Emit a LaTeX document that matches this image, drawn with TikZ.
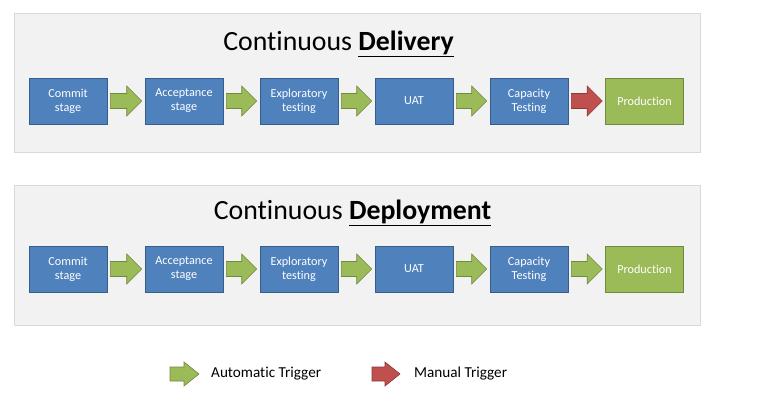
\documentclass[tikz,border=0pt]{standalone}
\usepackage{fontspec}
\setmainfont{Carlito}[Ligatures=NoCommon]
\usetikzlibrary{calc}
\definecolor{boxblue}{HTML}{4F81BD}
\definecolor{boxblueline}{HTML}{385D8A}
\definecolor{boxgreen}{HTML}{9BBB59}
\definecolor{boxgreenline}{HTML}{71893F}
\definecolor{arrred}{HTML}{C0504D}
\definecolor{arrredline}{HTML}{8C3836}
\definecolor{panelfill}{HTML}{F2F2F2}
\definecolor{panelline}{HTML}{D9D9D9}
\newcommand{\thickul}[1]{\underline{#1}}
\tikzset{
  panel/.style={fill=panelfill, draw=panelline, line width=0.8pt},
  stagebox/.style={rectangle, fill=boxblue, draw=boxblueline, line width=0.6pt,
    minimum width=78pt, minimum height=46pt, inner sep=0pt, align=center,
    text=white, font=\fontsize{12.2}{14}\selectfont},
  prodbox/.style={stagebox, fill=boxgreen, draw=boxgreenline},
  autoarr/.style={fill=boxgreen, draw=boxgreenline, line width=0.6pt, line join=miter},
  manarr/.style={fill=arrred, draw=arrredline, line width=0.6pt, line join=miter},
  titletext/.style={anchor=base, inner sep=0pt, font=\fontsize{27.8}{32}\selectfont},
  legendtext/.style={anchor=base west, inner sep=0pt, font=\fontsize{15.2}{18}\selectfont}
}
% #1 from node, #2 to node, #3 style, #4 shaft half height, #5 head half height, #6 head length
\newcommand{\blockarrow}[6]{%
  \draw[#3] ($(#1.east)+(3,-#4)$) -- ($(#2.west)+(-3-#6,-#4)$) -- ($(#2.west)+(-3-#6,-#5)$)
    -- ($(#2.west)+(-3,0)$) -- ($(#2.west)+(-3-#6,#5)$) -- ($(#2.west)+(-3-#6,#4)$)
    -- ($(#1.east)+(3,#4)$) -- cycle;}
\begin{document}
\begin{tikzpicture}[x=1pt,y=-1pt]
\useasboundingbox (0,0) rectangle (765,407);
\fill[white] (0,0) rectangle (765,407);
% panels
\draw[panel] (14,13) rectangle (700,152);
\draw[panel] (14,185) rectangle (700,325);
% titles
\node[titletext] (t1) at (338.5,50) {Continuous \thickul{\textbf{Delivery}}};
\node[titletext] (t2) at (352.5,219) {Continuous \thickul{\textbf{Deployment}}};
% row 1
\node[stagebox] (a1) at (68,101) {Commit\\stage};
\node[stagebox] (b1) at (184,101) {Acceptance\\stage};
\node[stagebox] (c1) at (299,101) {Exploratory\\testing};
\node[stagebox] (d1) at (414,101) {UAT};
\node[stagebox] (e1) at (529,101) {Capacity\\Testing};
\node[prodbox]  (f1) at (644.5,101) {Production};
\blockarrow{a1}{b1}{autoarr}{7.5}{15}{15}
\blockarrow{b1}{c1}{autoarr}{7.5}{15}{15}
\blockarrow{c1}{d1}{autoarr}{7.5}{15}{15}
\blockarrow{d1}{e1}{autoarr}{7.5}{15}{15}
\blockarrow{e1}{f1}{manarr}{7.5}{15}{15}
% row 2
\node[stagebox] (a2) at (68,269) {Commit\\stage};
\node[stagebox] (b2) at (184,269) {Acceptance\\stage};
\node[stagebox] (c2) at (299,269) {Exploratory\\testing};
\node[stagebox] (d2) at (414,269) {UAT};
\node[stagebox] (e2) at (529,269) {Capacity\\Testing};
\node[prodbox]  (f2) at (644.5,269) {Production};
\blockarrow{a2}{b2}{autoarr}{7.5}{15}{15}
\blockarrow{b2}{c2}{autoarr}{7.5}{15}{15}
\blockarrow{c2}{d2}{autoarr}{7.5}{15}{15}
\blockarrow{d2}{e2}{autoarr}{7.5}{15}{15}
\blockarrow{e2}{f2}{autoarr}{7.5}{15}{15}
% legend
\coordinate (lg1) at (167,374);
\coordinate (lg2) at (202,374);
\coordinate (lr1) at (369,374);
\coordinate (lr2) at (403,374);
\blockarrow{lg1}{lg2}{autoarr}{7}{12}{15}
\blockarrow{lr1}{lr2}{manarr}{7}{12}{15}
\node[legendtext] (l1) at (211,377) {Automatic Trigger};
\node[legendtext] (l2) at (414,377) {Manual Trigger};
\end{tikzpicture}
\end{document}
